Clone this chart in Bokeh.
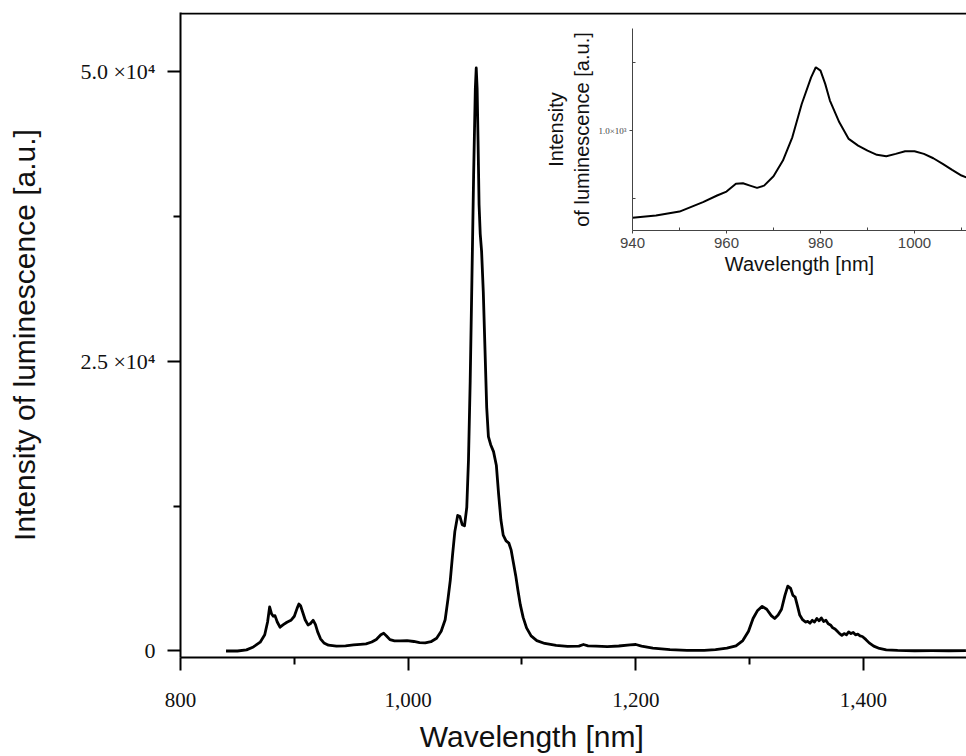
from bokeh.plotting import figure
from bokeh.models import LinearAxis, Range1d, FixedTicker, Span
from bokeh.embed import file_html
from bokeh.resources import INLINE

# ---- main spectrum (wavelength nm, intensity a.u.) ----
wavelength = [840, 850, 858, 864, 870, 874, 876.5, 878.3, 880, 881.5, 883, 885, 887.5, 890,
              893.5, 897, 900, 902.5, 904, 905.5, 907, 909.5, 912, 914, 916.5, 918.5, 920.5,
              923, 926, 930, 937, 945, 952, 958, 963, 968, 972, 976, 978.5, 981, 984, 988,
              993, 999, 1005, 1010, 1015, 1020, 1025, 1029, 1032.5, 1035, 1037, 1039, 1041,
              1043.5, 1045.5, 1047.5, 1049.5, 1051.5, 1053, 1054.5, 1056, 1057.5, 1059,
              1059.8, 1060.6, 1061.4, 1062.3, 1063.3, 1064.5, 1066, 1067.5, 1069, 1070.5,
              1072.5, 1075, 1077.5, 1079.5, 1081.5, 1083.5, 1086, 1088.5, 1090.5, 1092.5,
              1094.5, 1096.5, 1098.5, 1101, 1104, 1108, 1113, 1120, 1130, 1140, 1150, 1154,
              1158, 1165, 1175, 1185, 1195, 1200, 1205, 1215, 1230, 1245, 1260, 1270, 1280,
              1288, 1294, 1299, 1303, 1307, 1311, 1315, 1319, 1322, 1325, 1328, 1331, 1333.5,
              1336, 1338, 1340, 1342, 1344, 1346.5, 1349, 1351, 1353, 1355, 1357, 1359, 1361,
              1363, 1365, 1367, 1369, 1371, 1373, 1375, 1377, 1379, 1381, 1383, 1385, 1387,
              1389, 1391, 1393, 1395, 1397, 1399, 1402, 1405, 1409, 1414, 1420, 1430, 1445,
              1460, 1475, 1490]
intensity = [0, 0, 100, 350, 760, 1400, 2500, 3800, 3200, 3000, 3050, 2500, 2050, 2250,
             2480, 2650, 3000, 3700, 4050, 3900, 3450, 2700, 2250, 2350, 2650, 2300, 1650,
             1050, 700, 500, 420, 450, 520, 570, 620, 780, 1000, 1400, 1530, 1300, 980, 870,
             880, 900, 820, 720, 700, 800, 1100, 1700, 2700, 4500, 6100, 8300, 10300,
             11700, 11600, 10900, 10800, 12400, 16500, 23300, 32000, 41000, 48500,
             50300, 48500, 44000, 38500, 36000, 34500, 31000, 26000, 21000, 18500,
             17800, 17200, 16000, 13500, 11300, 10000, 9500, 9300, 8700, 7600,
             6500, 5200, 4000, 2900, 2000, 1300, 900, 650, 480, 400, 420, 560,
             450, 420, 380, 430, 520, 560, 420, 250, 120, 50, 60, 120, 250,
             450, 900, 1700, 2800, 3500, 3850, 3600, 3050, 2800, 3100, 3600, 4800, 5600,
             5400, 4800, 4650, 3900, 3100, 2700, 2500, 2550, 2400, 2650, 2500, 2800, 2600,
             2850, 2550, 2650, 2350, 2250, 2000, 1900, 1700, 1500, 1350, 1500, 1400, 1650,
             1500, 1600, 1400, 1450, 1300, 1250, 1000, 700, 420, 220, 100, 50, 20,
             30, 20, 30]

# ---- inset spectrum ----
inset_wavelength = [940, 945, 950, 955, 958, 960, 962, 963.5, 965, 966.5, 968, 970, 972, 974,
                    976, 978, 979, 980, 981, 982, 984, 986, 988, 990, 992, 994, 996, 998,
                    1000, 1002, 1004, 1006, 1008, 1010, 1011]
inset_intensity = [358, 375, 404, 473, 522, 551, 608, 612, 595, 578, 595, 664, 779, 950,
                   1195, 1391, 1465, 1440, 1343, 1220, 1060, 938, 889, 852, 821, 811, 828, 848,
                   848, 828, 796, 755, 711, 669, 656]

x_ticks = [800, 1000, 1200, 1400]
x_minor = [900, 1100, 1300]
x_labels = ["800", "1,000", "1,200", "1,400"]
y_ticks = [0, 25000, 50000]
y_minor = [12500, 37500]
y_labels = ["0", "2.5 \u00d710\u2074", "5.0 \u00d710\u2074"]

ix_ticks = [940, 960, 980, 1000]
ix_minor = [950, 970, 990, 1010]
iy_ticks = [1000]
iy_minor = [500, 1500]
iy_labels = ["1.0\u00d710\u00b3"]

X0, X1 = 800, 1490.5
Y0, Y1 = -561, 55090

p = figure(width=966, height=756, output_backend="svg", toolbar_location=None,
           x_range=Range1d(X0, X1), y_range=Range1d(Y0, Y1),
           min_border_left=180, min_border_top=12, min_border_bottom=99, min_border_right=0)
p.outline_line_color = None
p.grid.visible = False
p.background_fill_color = "white"
p.border_fill_color = "white"

serif = "Liberation Serif"
sans = "Liberation Sans"

xa = p.xaxis[0]
xa.ticker = FixedTicker(ticks=x_ticks, minor_ticks=x_minor)
xa.major_label_overrides = {t: l for t, l in zip(x_ticks, x_labels)}
ya = p.yaxis[0]
ya.ticker = FixedTicker(ticks=y_ticks, minor_ticks=y_minor)
ya.major_label_overrides = {t: l for t, l in zip(y_ticks, y_labels)}
for ax in (xa, ya):
    ax.axis_line_width = 2
    ax.axis_line_color = "black"
    ax.major_tick_line_width = 2
    ax.minor_tick_line_width = 2
    ax.major_tick_line_color = "black"
    ax.minor_tick_line_color = "black"
    ax.major_tick_out = 13
    ax.major_tick_in = 0
    ax.minor_tick_out = 7
    ax.minor_tick_in = 0
    ax.major_label_text_font = serif
    ax.major_label_text_color = "#111111"
    ax.axis_label_text_font = sans
    ax.axis_label_text_font_style = "normal"
    ax.axis_label_text_color = "#111111"
xa.major_label_text_font_size = "21px"
xa.major_label_standoff = 22
# trailing no-break spaces shift the centred title left, as in the original
xa.axis_label = "Wavelength [nm]" + "\u00a0" * 10
xa.axis_label_text_font_size = "30px"
xa.axis_label_standoff = 10
ya.major_label_text_font_size = "22px"
ya.major_label_standoff = 12
ya.axis_label = "Intensity of luminescence [a.u.]"
ya.axis_label_text_font_size = "30px"
ya.axis_label_standoff = 36

p.add_layout(Span(location=Y1 - 86, dimension="width", line_color="black", line_width=2))

p.line(wavelength, intensity, line_color="black", line_width=2.8, line_join="round")

# ---- inset drawn with its own ranges ----
p.extra_x_ranges = {"ix": Range1d(843.83, 1011.06)}
p.extra_y_ranges = {"iy": Range1d(-2875, 1867.7)}
p.line(inset_wavelength, inset_intensity, x_range_name="ix", y_range_name="iy",
       line_color="black", line_width=2)

ixa = LinearAxis(x_range_name="ix", y_range_name="iy", fixed_location=264.7,
                 bounds=(940, 1011.06),
                 ticker=FixedTicker(ticks=ix_ticks, minor_ticks=ix_minor),
                 axis_label="Wavelength [nm]")
iya = LinearAxis(x_range_name="ix", y_range_name="iy", fixed_location=940,
                 bounds=(264.7, 1750),
                 ticker=FixedTicker(ticks=iy_ticks, minor_ticks=iy_minor),
                 axis_label="Intensity\nof luminescence [a.u.]")
iya.major_label_overrides = {t: l for t, l in zip(iy_ticks, iy_labels)}
for ax in (ixa, iya):
    ax.axis_line_color = "#444444"
    ax.axis_line_width = 1
    ax.major_tick_line_color = "#444444"
    ax.minor_tick_line_color = "#444444"
    ax.major_tick_in = 0
    ax.major_tick_out = 3
    ax.minor_tick_in = 3
    ax.minor_tick_out = 0
    ax.axis_label_text_font = sans
    ax.axis_label_text_font_size = "20px"
    ax.axis_label_text_font_style = "normal"
    ax.axis_label_text_color = "#111111"
ixa.major_label_text_font = sans
ixa.major_label_text_font_size = "15px"
ixa.major_label_standoff = 4
ixa.axis_label_standoff = 2
iya.major_label_text_font = serif
iya.major_label_text_font_size = "9px"
iya.major_label_standoff = 3
iya.axis_label_standoff = 2
p.add_layout(ixa, "below")
p.add_layout(iya, "left")

open("out.html", "w").write(file_html(p, INLINE))
